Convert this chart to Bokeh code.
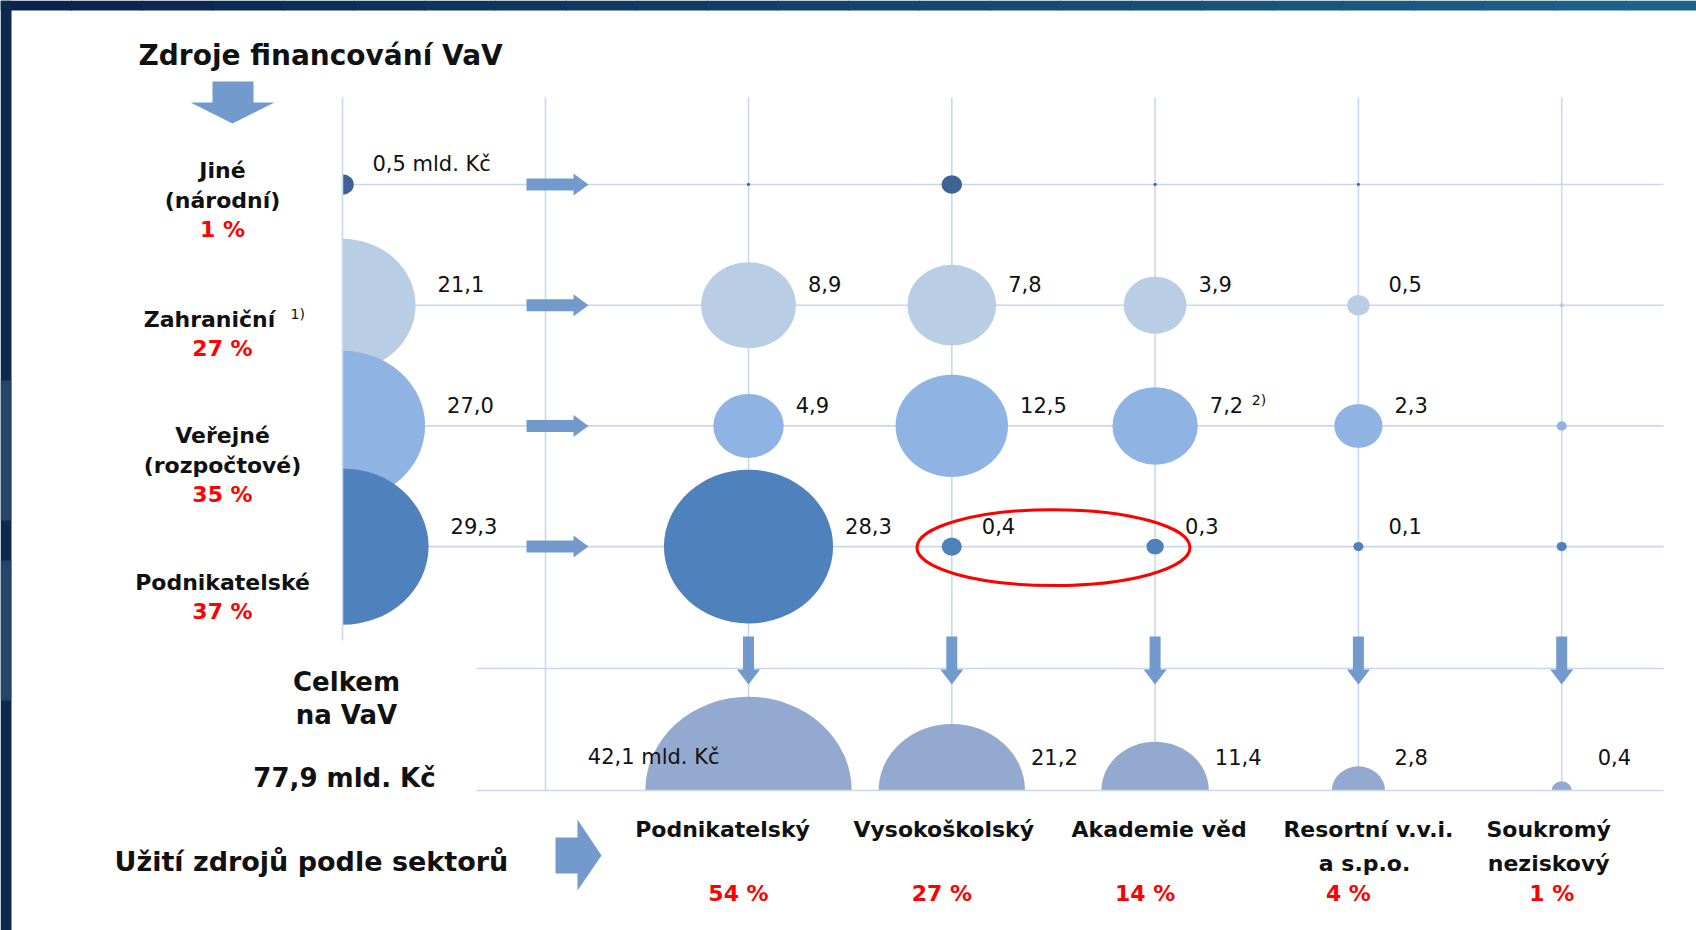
import math
from bokeh.plotting import figure
from bokeh.models import Range1d
from bokeh.embed import file_html
from bokeh.resources import INLINE
from bokeh.core.properties import value

# ---------------- data (mld. Kč) ----------------
sources = ["Jiné\n(národní)", "Zahraniční", "Veřejné\n(rozpočtové)", "Podnikatelské"]
source_pct = ["1 %", "27 %", "35 %", "37 %"]
source_totals = [0.5, 21.1, 27.0, 29.3]

sectors = ["Podnikatelský", "Vysokoškolský", "Akademie věd", "Resortní v.v.i.\na  s.p.o.", "Soukromý\nneziskový"]
sector_pct = ["54 %", "27 %", "14 %", "4 %", "1 %"]
sector_totals = [42.1, 21.2, 11.4, 2.8, 0.4]

flow_jine = [0.01, 0.42, 0.01, 0.01, 0.0]
flow_zahranicni = [8.9, 7.8, 3.9, 0.5, 0.02]
flow_verejne = [4.9, 12.5, 7.2, 2.3, 0.1]
flow_podnikatelske = [28.3, 0.4, 0.3, 0.1, 0.1]
flows = [flow_jine, flow_zahranicni, flow_verejne, flow_podnikatelske]

grand_total = "77,9 mld. Kč"
title = "Zdroje financování VaV"
usage_title = "Užití zdrojů podle sektorů"
total_title = ["Celkem", "na VaV"]

# ---------------- layout / style ----------------
W, H = 1696, 930
KW, KH = 31.8, 28.9          # bubble diameter per sqrt(value), screen px
SRC_X = 342
COL_X = [748 + i * 203.3 for i in range(5)]
ROW_Y = [184 + i * 120.7 for i in range(4)]
SPLIT_X = 545
MID_Y, TOT_Y = 668, 790
GRID_TOP, GRID_RIGHT, LOW_LEFT = 97, 1663, 476

ROW_COLORS = ["#3e6394", "#b9cde5", "#8fb4e3", "#4f81bd"]
TOT_COLOR = "#94a9d0"
GRID = "#c8d8ee"
ARROW = "#6b95c9"
RED = "#ff0000"
INK = "#111111"
NAVY = "#0b2a50"

BOLD = value("DejaVu Sans")
NUM = value("DejaVu Sans")


def fmt(v):
    return f"{v:.1f}".replace(".", ",")


p = figure(width=W, height=H, output_backend="svg", toolbar_location=None,
           x_range=Range1d(0, W), y_range=Range1d(H, 0),
           x_axis_type=None, y_axis_type=None, min_border=0)
p.outline_line_color = None
p.grid.visible = False
p.background_fill_color = "white"
p.border_fill_color = "white"

# slide frame: gradient band at top, dark strip at left
n = 24
band_l = [W * i / n for i in range(n)]
band_r = [W * (i + 1) / n + 1 for i in range(n)]
def mix(a, b, t):
    return "#%02x%02x%02x" % tuple(int(a[k] + (b[k] - a[k]) * t) for k in range(3))
band_c = [mix((10, 36, 78), (30, 100, 138), i / (n - 1)) for i in range(n)]
p.quad(left=band_l, right=band_r, top=[0] * n, bottom=[10] * n, fill_color=band_c, line_color=None)
p.quad(left=[0], right=[11], top=[0], bottom=[H], fill_color=NAVY, line_color=None)
p.quad(left=[0, 0], right=[11, 11], top=[380, 560], bottom=[520, 700],
       fill_color="#3a5a80", fill_alpha=0.55, line_color=None)

# ---------------- grid ----------------
gx0, gy0, gx1, gy1 = [], [], [], []
for cx in [SPLIT_X] + COL_X:
    gx0.append(cx); gy0.append(GRID_TOP); gx1.append(cx); gy1.append(TOT_Y)
for ry in ROW_Y:
    gx0.append(SRC_X); gy0.append(ry); gx1.append(GRID_RIGHT); gy1.append(ry)
gx0.append(LOW_LEFT); gy0.append(MID_Y); gx1.append(GRID_RIGHT); gy1.append(MID_Y)
p.segment(gx0, gy0, gx1, gy1, line_color=GRID, line_width=1.6)

# ---------------- flow bubbles ----------------
for r, row in enumerate(flows):
    p.ellipse(x=COL_X, y=[ROW_Y[r]] * 5,
              width=[KW * math.sqrt(v) for v in row],
              height=[KH * math.sqrt(v) for v in row],
              width_units="screen", height_units="screen",
              fill_color=ROW_COLORS[r], line_color=None)

# source bubbles (half visible)
for r, v in enumerate(source_totals):
    p.ellipse(x=[SRC_X], y=[ROW_Y[r]], width=[KW * math.sqrt(v)], height=[KH * math.sqrt(v)],
              width_units="screen", height_units="screen",
              fill_color=ROW_COLORS[r], line_color=None)

# sector totals (half visible)
p.ellipse(x=COL_X, y=[TOT_Y] * 5,
          width=[KW * math.sqrt(v) for v in sector_totals],
          height=[KH * math.sqrt(v) for v in sector_totals],
          width_units="screen", height_units="screen",
          fill_color=TOT_COLOR, line_color=None)

# masks that cut the bubbles into halves
p.quad(left=[11.5, LOW_LEFT - 40], right=[SRC_X, W], top=[140, TOT_Y], bottom=[660, H],
       fill_color="white", line_color=None)

p.segment([SRC_X, LOW_LEFT], [GRID_TOP, TOT_Y], [SRC_X, GRID_RIGHT], [640, TOT_Y],
          line_color=GRID, line_width=1.6)

# ---------------- arrows ----------------
axs, ays = [], []
for ry in ROW_Y:
    x0, xh, xt, sh, hh = SPLIT_X - 19, SPLIT_X + 28, SPLIT_X + 43, 6, 11
    axs.append([x0, xh, xh, xt, xh, xh, x0])
    ays.append([ry - sh, ry - sh, ry - hh, ry, ry + hh, ry + sh, ry + sh])
for cx in COL_X:
    y0, yh, yt, sw, hw = MID_Y - 32, MID_Y + 1, MID_Y + 16, 5.5, 11.5
    axs.append([cx - sw, cx + sw, cx + sw, cx + hw, cx, cx - hw, cx - sw])
    ays.append([y0, y0, yh, yh, yt, yh, yh])
# big arrow under title
axs.append([212, 253, 253, 274, 232, 190, 212]); ays.append([81, 81, 102, 102, 123, 102, 102])
# big arrow to sectors
axs.append([555, 577, 577, 601, 577, 577, 555]); ays.append([837, 837, 819, 855, 890, 873, 873])
p.patches(axs, ays, fill_color=ARROW, fill_alpha=0.95, line_color=None)

# red highlight ellipse
p.ellipse(x=[(COL_X[1] + COL_X[2]) / 2], y=[ROW_Y[3] + 1], width=[273], height=[76],
          width_units="screen", height_units="screen",
          fill_color=None, line_color=RED, line_width=3)

# ---------------- texts ----------------
p.text(x=[138], y=[55], text=[title], text_font=BOLD, text_font_style="bold",
       text_font_size="28px", text_color=INK, text_align="left", text_baseline="middle")

first_line_y = [170, 319, 435, 582]
name_dx = [0, -13, 0, 0]
lx, ly, lt, px_, py_, pt = [], [], [], [], [], []
for r, name in enumerate(sources):
    lines = name.split("\n")
    for i, ln in enumerate(lines):
        lx.append(222 + name_dx[r]); ly.append(first_line_y[r] + 30 * i); lt.append(ln)
    px_.append(222); py_.append(first_line_y[r] + 30 * (len(lines) - 1) + 29); pt.append(source_pct[r])
p.text(x=lx, y=ly, text=lt, text_font=BOLD, text_font_style="bold", text_font_size="22px",
       text_color=INK, text_align="center", text_baseline="middle")
p.text(x=px_, y=py_, text=pt, text_font=BOLD, text_font_style="bold", text_font_size="22px",
       text_color=RED, text_align="center", text_baseline="middle")

# value labels
vx, vy, vt = [], [], []
for r, v in enumerate(source_totals):
    vx.append(SRC_X + max(KW * math.sqrt(v) / 2, 18) + (12 if r == 0 else 22))
    vy.append(ROW_Y[r] - 21)
    vt.append(fmt(v) + (" mld. Kč" if r == 0 else ""))
for r in range(1, 4):
    for c in range(4):
        v = flows[r][c]
        vx.append(COL_X[c] + max(KW * math.sqrt(v) / 2, 18) + 12)
        vy.append(ROW_Y[r] - 21)
        vt.append(fmt(v))
for c in range(1, 5):
    v = sector_totals[c]
    vx.append(COL_X[c] + max(KW * math.sqrt(v) / 2, 30) + 6)
    vy.append(TOT_Y - 34)
    vt.append(fmt(v))
p.text(x=vx, y=vy, text=vt, text_font=NUM, text_font_size="21px", text_color=INK,
       text_align="left", text_baseline="middle")
p.text(x=[COL_X[0] - 29], y=[TOT_Y - 34], text=[fmt(sector_totals[0]) + " mld. Kč"],
       text_font=NUM, text_font_size="21px", text_color=INK, text_align="right", text_baseline="middle")

# footnote marks
v72 = flows[2][2]
p.text(x=[290, COL_X[2] + max(KW * math.sqrt(v72) / 2, 18) + 12 + 42],
       y=[ROW_Y[1] + 9, ROW_Y[2] - 26], text=["1)", "2)"],
       text_font=NUM, text_font_size="14px", text_color=INK, text_align="left", text_baseline="middle")

# totals block on the left
p.text(x=[346, 346], y=[681, 714], text=total_title, text_font=BOLD, text_font_style="bold",
       text_font_size="26px", text_color=INK, text_align="center", text_baseline="middle")
p.text(x=[344], y=[777], text=[grand_total], text_font=BOLD, text_font_style="bold",
       text_font_size="26px", text_color=INK, text_align="center", text_baseline="middle")
p.text(x=[114], y=[861], text=[usage_title], text_font=BOLD, text_font_style="bold",
       text_font_size="27px", text_color=INK, text_align="left", text_baseline="middle")

# sector labels
SEC_DX = [-26, -8, 4, 10, -13]
sx, sy, st, qx, qy, qt = [], [], [], [], [], []
for c, name in enumerate(sectors):
    for i, ln in enumerate(name.split("\n")):
        sx.append(COL_X[c] + SEC_DX[c]); sy.append(829 + 34 * i); st.append(ln)
    qx.append(COL_X[c] - 10); qy.append(893); qt.append(sector_pct[c])
p.text(x=sx, y=sy, text=st, text_font=BOLD, text_font_style="bold", text_font_size="22px",
       text_color=INK, text_align="center", text_baseline="middle")
p.text(x=qx, y=qy, text=qt, text_font=BOLD, text_font_style="bold", text_font_size="22px",
       text_color=RED, text_align="center", text_baseline="middle")

open("out.html", "w").write(file_html(p, INLINE))
